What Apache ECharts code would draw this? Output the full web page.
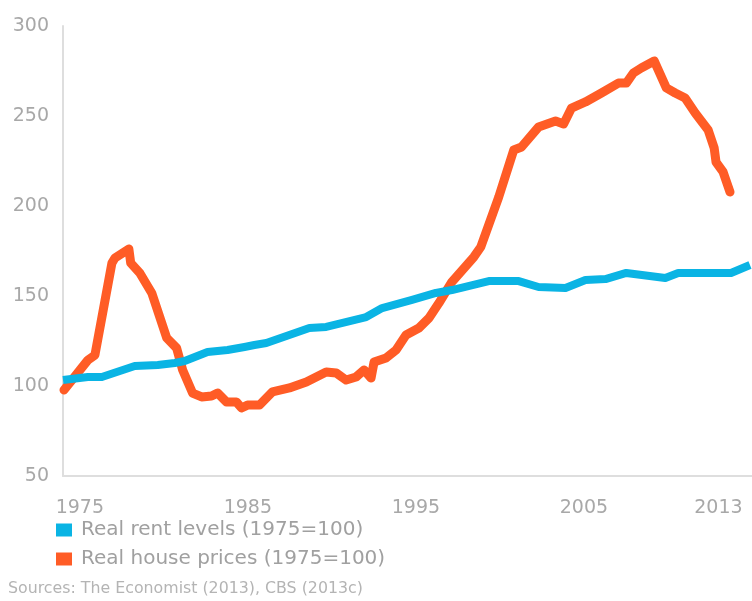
<!DOCTYPE html>
<html>
<head>
<meta charset="utf-8">
<title>Real rent levels and real house prices</title>
<script src="https://cdn.jsdelivr.net/npm/echarts@6/dist/echarts.min.js"></script>
<style>
  html, body { margin: 0; padding: 0; background: #ffffff; }
  #chart { width: 752px; height: 601px; }
</style>
</head>
<body>
<div id="chart"></div>
<script>
// Year positions (fractional years) and index values, 1975 = 100
const rentYears = [1974.0, 1975.48, 1976.31, 1978.27, 1979.64, 1980.65, 1981.24, 1982.6, 1983.79, 1984.8,
  1985.39, 1986.1, 1988.66, 1989.66, 1992.04, 1992.99, 1994.77, 1996.19, 1997.14, 1999.34,
  2001.12, 2002.3, 2003.9, 2005.09, 2006.28, 2007.52, 2009.84, 2010.61, 2013.75, 2014.88];
const rentValues = [103.3, 105.0, 105.0, 111.1, 111.7, 112.8, 113.9, 118.9, 120.0, 121.7,
  122.8, 123.9, 132.2, 132.8, 138.3, 143.3, 147.8, 151.7, 153.3, 158.3,
  158.3, 155.0, 154.4, 158.9, 159.4, 162.8, 160.0, 162.8, 162.8, 167.2];

const priceYears = [1974.06, 1975.48, 1975.9, 1976.91, 1977.09, 1977.92, 1978.03, 1978.57, 1979.28, 1980.17,
  1980.76, 1981.12, 1981.71, 1982.25, 1982.84, 1983.2, 1983.73, 1984.32, 1984.62, 1984.98,
  1985.69, 1986.46, 1987.47, 1988.48, 1989.66, 1990.26, 1990.85, 1991.44, 1991.92, 1992.33,
  1992.51, 1993.22, 1993.82, 1994.41, 1995.18, 1995.78, 1996.37, 1997.14, 1998.45, 1998.86,
  1999.93, 2000.82, 2001.29, 2002.3, 2003.31, 2003.79, 2004.26, 2005.09, 2006.04, 2007.05,
  2007.52, 2007.94, 2008.41, 2009.18, 2009.9, 2010.43, 2011.02, 2011.62, 2012.39, 2012.75,
  2012.86, 2013.28, 2013.69];
const priceValues = [97.8, 114.4, 117.2, 168.3, 171.1, 176.1, 168.3, 162.8, 151.7, 126.7,
  121.1, 108.9, 96.1, 93.9, 94.4, 96.1, 91.1, 91.1, 87.8, 89.4,
  89.4, 96.7, 98.9, 102.2, 107.8, 107.2, 103.3, 105.0, 108.9, 104.4,
  113.3, 115.6, 120.0, 128.3, 132.2, 137.8, 146.1, 157.8, 171.7, 177.2,
  205.0, 231.1, 232.8, 243.9, 247.2, 245.6, 254.4, 257.8, 262.8, 268.3,
  268.3, 273.9, 276.7, 280.6, 265.6, 262.8, 260.0, 251.7, 242.2, 232.2,
  224.4, 218.9, 207.8];

const yearTicks = [1975, 1985, 1995, 2005, 2013];
const seriesNames = ['Real rent levels (1975=100)', 'Real house prices (1975=100)'];
const sourceNote = 'Sources: The Economist (2013), CBS (2013c)';

const RENT_COLOR = '#0ab4e4';
const PRICE_COLOR = '#ff5c26';

const pairs = (xs, ys) => xs.map((x, i) => [x, ys[i]]);

const FONT = 'DejaVu Sans';
const chart = echarts.init(document.getElementById('chart'), null, { renderer: 'canvas' });

chart.setOption({
  animation: false,
  backgroundColor: '#ffffff',
  grid: { left: 63, top: 26, width: 691, height: 450, containLabel: false },
  title: {
    text: sourceNote,
    left: 3,
    top: 580,
    padding: [0, 5],
    textStyle: { fontFamily: FONT, fontSize: 15.8, fontWeight: 'normal', color: '#b4b4b4', lineHeight: 18 }
  },
  legend: {
    data: seriesNames,
    orient: 'vertical',
    left: 51,
    top: 515,
    itemWidth: 16,
    itemHeight: 13,
    itemGap: 9,
    icon: 'rect',
    textStyle: { fontFamily: FONT, fontSize: 20, color: '#a0a0a0', padding: [0, 0, 0, 4] }
  },
  xAxis: {
    type: 'value',
    min: 1974,
    max: 2015,
    axisLine: { show: true, lineStyle: { color: '#dedede', width: 2 } },
    axisTick: { show: false },
    splitLine: { show: false },
    axisLabel: {
      customValues: yearTicks,
      formatter: v => String(Math.round(v)),
      margin: 23,
      fontFamily: FONT,
      fontSize: 19,
      color: '#a8a8a8'
    }
  },
  yAxis: {
    type: 'value',
    min: 50,
    max: 300,
    interval: 50,
    axisLine: { show: true, lineStyle: { color: '#dedede', width: 2 } },
    axisTick: { show: false },
    splitLine: { show: false },
    axisLabel: { margin: 14, fontFamily: FONT, fontSize: 19, color: '#a8a8a8' }
  },
  series: [
    {
      name: seriesNames[1],
      type: 'line',
      data: pairs(priceYears, priceValues),
      showSymbol: false,
      itemStyle: { color: PRICE_COLOR },
      lineStyle: { width: 9, color: PRICE_COLOR, join: 'round', cap: 'round' },
      z: 2
    },
    {
      name: seriesNames[0],
      type: 'line',
      data: pairs(rentYears, rentValues),
      showSymbol: false,
      itemStyle: { color: RENT_COLOR },
      lineStyle: { width: 8, color: RENT_COLOR, join: 'round' },
      z: 3
    }
  ]
});
</script>
</body>
</html>
